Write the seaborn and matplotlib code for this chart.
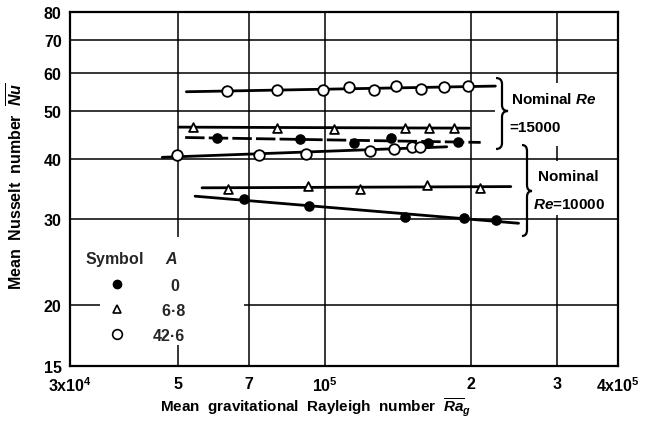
import numpy as np
import matplotlib
matplotlib.use("Agg")
import matplotlib.pyplot as plt
import seaborn as sns
from matplotlib.lines import Line2D
from matplotlib.patches import Rectangle, PathPatch
from matplotlib.path import Path
from matplotlib.ticker import FixedLocator, FixedFormatter, NullLocator

# ---------------- data ----------------
# Nominal Re = 15000
re15_filled_x = [6.01e4, 8.89e4, 1.15e5, 1.37e5, 1.63e5, 1.88e5]
re15_filled_nu = [44.1, 43.9, 43.1, 44.1, 43.1, 43.3]
re15_tri_x = [5.36e4, 7.97e4, 1.045e5, 1.46e5, 1.64e5, 1.84e5]
re15_tri_nu = [46.5, 46.3, 46.1, 46.3, 46.3, 46.2]
re15_open_x = [6.30e4, 7.97e4, 9.92e4, 1.12e5, 1.26e5, 1.40e5, 1.58e5, 1.76e5, 1.97e5]
re15_open_nu = [55.1, 55.3, 55.3, 56.0, 55.4, 56.3, 55.6, 56.2, 56.3]
# Nominal Re = 10000
re10_filled_x = [6.82e4, 9.28e4, 1.46e5, 1.93e5, 2.25e5]
re10_filled_nu = [33.0, 32.0, 30.4, 30.2, 29.9]
re10_tri_x = [6.33e4, 9.23e4, 1.18e5, 1.62e5, 2.08e5]
re10_tri_nu = [34.7, 35.2, 34.7, 35.3, 34.8]
re10_open_x = [4.98e4, 7.33e4, 9.16e4, 1.24e5, 1.39e5, 1.51e5, 1.57e5]
re10_open_nu = [40.7, 40.7, 40.9, 41.5, 41.9, 42.3, 42.3]

# x-extent of the faired line drawn through each series
re15_filled_span = [5.17e4, 2.09e5]
re15_tri_span = [5.02e4, 1.98e5]
re15_open_span = [5.2e4, 2.24e5]
re10_filled_span = [5.42e4, 2.5e5]
re10_tri_span = [5.6e4, 2.41e5]
re10_open_span = [4.64e4, 1.78e5]

x_ticks = [3e4, 5e4, 7e4, 1e5, 2e5, 3e5, 4e5]
x_tick_labels = ["3x10$^4$", "5", "7", "10$^5$", "2", "3", "4x10$^5$"]
y_ticks = [15, 20, 30, 40, 50, 60, 70, 80]
y_tick_labels = ["15", "20", "30", "40", "50", "60", "70", "80"]
legend_labels = ["0", "6\u00b78", "42\u00b76"]

# ---------------- style ----------------
sns.set_theme(style="white")
plt.rcParams["font.family"] = ["Liberation Sans", "DejaVu Sans"]
plt.rcParams["font.weight"] = "bold"
plt.rcParams["mathtext.fontset"] = "custom"
plt.rcParams["mathtext.rm"] = "Liberation Sans:bold"
plt.rcParams["mathtext.it"] = "Liberation Sans:italic:bold"
plt.rcParams["mathtext.bf"] = "Liberation Sans:bold"

W, H = 647, 427
fig = plt.figure(figsize=(W / 100, H / 100), dpi=100)
fig.patch.set_facecolor("white")
ax = fig.add_axes([70 / W, 1 - 367 / H, 548 / W, 354 / H])
ax.set_facecolor("white")

ax.set_xscale("log")
ax.set_yscale("log")
ax.set_xlim(3e4, 4e5)
ax.set_ylim(15, 80)

ax.xaxis.set_major_locator(FixedLocator(x_ticks))
ax.xaxis.set_major_formatter(FixedFormatter(x_tick_labels))
ax.xaxis.set_minor_locator(NullLocator())
ax.yaxis.set_major_locator(FixedLocator(y_ticks))
ax.yaxis.set_major_formatter(FixedFormatter(y_tick_labels))
ax.yaxis.set_minor_locator(NullLocator())
ax.tick_params(axis="both", which="both", length=0, labelsize=11.5, colors="black")
ax.tick_params(axis="x", pad=7)
ax.tick_params(axis="y", pad=6)
for lab in ax.get_xticklabels() + ax.get_yticklabels():
    lab.set_fontweight("bold")

ax.set_axisbelow(True)
ax.grid(True, which="major", color="black", linewidth=1.1)
for sp in ax.spines.values():
    sp.set_color("black")
    sp.set_linewidth(1.6)


def fig_pt(x, y):
    return (x / W, 1 - y / H)


def white_box(x0, y0, x1, y1):
    ax.add_patch(Rectangle(fig_pt(x0, y1), (x1 - x0) / W, (y1 - y0) / H,
                           transform=fig.transFigure, facecolor="white",
                           edgecolor="none", zorder=1.5))


# areas where the grid is interrupted (legend and annotations)
white_box(100, 238, 244, 346)
white_box(495, 84, 617, 147)
white_box(520, 162, 617, 216)

series = [
    (re15_open_x, re15_open_nu, re15_open_span, "o", "white", 58, "-"),
    (re15_tri_x, re15_tri_nu, re15_tri_span, "^", "white", 40, "-"),
    (re15_filled_x, re15_filled_nu, re15_filled_span, "o", "black", 40, (0, (7, 1.5))),
    (re10_open_x, re10_open_nu, re10_open_span, "o", "white", 58, "-"),
    (re10_tri_x, re10_tri_nu, re10_tri_span, "^", "white", 40, "-"),
    (re10_filled_x, re10_filled_nu, re10_filled_span, "o", "black", 40, "-"),
]

for xs, ys, span, mk, fc, size, ls in series:
    lx, ly = np.log10(xs), np.log10(ys)
    coef = np.polyfit(lx, ly, 1)
    fx = np.array(span)
    fy = 10 ** np.polyval(coef, np.log10(fx))
    sns.lineplot(x=fx, y=fy, ax=ax, color="black", linewidth=2.0,
                 linestyle=ls, zorder=3, legend=False)
    sns.scatterplot(x=xs, y=ys, ax=ax, marker=mk, s=size, facecolor=fc,
                    edgecolor="black", linewidth=1.3, zorder=4, legend=False)


# ---------------- legend ----------------
fs = 11
lfs = 11.5
handles = [
    Line2D([], [], marker="o", color="black", linestyle="none", markersize=6,
           markerfacecolor="black"),
    Line2D([], [], marker="^", color="black", linestyle="none", markersize=6,
           markerfacecolor="white", markeredgewidth=1.2),
    Line2D([], [], marker="o", color="black", linestyle="none", markersize=7,
           markerfacecolor="white", markeredgewidth=1.2),
]
labels = ["    " + legend_labels[0], "  " + legend_labels[1], legend_labels[2]]
leg = ax.legend(handles, labels, title="Symbol     $\\mathit{A}$",
                loc="upper left", bbox_to_anchor=fig_pt(85, 250),
                bbox_transform=fig.transFigure, frameon=False,
                fontsize=lfs, title_fontsize=lfs, alignment="left",
                handlelength=4.0, handletextpad=0.25, labelspacing=0.62,
                borderpad=0, borderaxespad=0, numpoints=1)
leg.get_title().set_fontweight("bold")
for t in leg.get_texts():
    t.set_fontweight("bold")
leg.set_zorder(5)


# ---------------- braces and annotations ----------------
def brace(x0, yt, yb, xt, ym, d=6):
    xm = (x0 + xt) / 2
    pts = [(x0, yt), (xm, yt), (xm, yt + d), (xm, ym - d), (xm, ym), (xt, ym),
           (xm, ym), (xm, ym + d), (xm, yb - d), (xm, yb), (x0, yb)]
    codes = [Path.MOVETO, Path.CURVE3, Path.CURVE3, Path.LINETO, Path.CURVE3,
             Path.CURVE3, Path.CURVE3, Path.CURVE3, Path.LINETO, Path.CURVE3,
             Path.CURVE3]
    verts = [fig_pt(x, y) for x, y in pts]
    fig.add_artist(PathPatch(Path(verts, codes), transform=fig.transFigure,
                             facecolor="none", edgecolor="black", linewidth=1.6,
                             zorder=6))


brace(496, 79, 150, 508, 112)
brace(522, 146, 237, 532, 192)

txt = dict(fontsize=fs, fontweight="bold", ha="left", va="center", color="black")
fig.text(*fig_pt(511, 100), "Nominal $\\mathit{Re}$", **txt)
fig.text(*fig_pt(509, 128), "=15000", **txt)
fig.text(*fig_pt(538, 177), "Nominal", **txt)
fig.text(*fig_pt(533, 205), "$\\mathit{Re}$=10000", **txt)

# ---------------- axis labels ----------------
ax.set_xlabel("Mean  gravitational  Rayleigh  number  $\\overline{Ra}_g$",
              fontsize=fs, fontweight="bold", color="black")
ax.xaxis.set_label_coords((315 - 70) / 548, -(397 - 367) / 354)
ax.set_ylabel("Mean  Nusselt  number  $\\overline{Nu}$",
              fontsize=11.5, fontweight="bold", color="black")
ax.yaxis.set_label_coords((26 - 70) / 548, 1 - (186 - 13) / 354)

fig.savefig("out.png", dpi=100, facecolor="white")
